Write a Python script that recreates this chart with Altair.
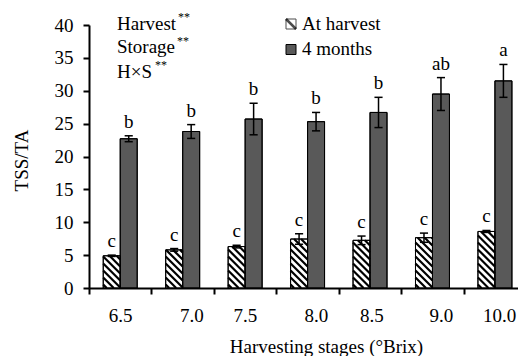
import altair as alt
import pandas as pd

# ---------------- data ----------------
stages = ["6.5", "7.0", "7.5", "8.0", "8.5", "9.0", "10.0"]
series = ["At harvest", "4 months"]
harvest_mean = [4.9, 5.8, 6.3, 7.45, 7.25, 7.65, 8.6]
harvest_err = [0.1, 0.2, 0.2, 0.8, 0.65, 0.7, 0.15]
harvest_letters = ["c", "c", "c", "c", "c", "c", "c"]
months_mean = [22.7, 23.8, 25.7, 25.3, 26.7, 29.5, 31.5]
months_err = [0.45, 1.05, 2.4, 1.4, 2.3, 2.5, 2.5]
months_letters = ["b", "b", "b", "b", "b", "ab", "a"]
y_ticks = [0, 5, 10, 15, 20, 25, 30, 35, 40]
effects = ["Harvest", "Storage", "H×S"]
effect_sig = ["**", "**", "**"]

# ---------------- style ----------------
W, H = 429, 263
BAND_PX = 62.45
XMAX = W / BAND_PX
YMAX = 40
BW = 0.272
CAP = 0.065
FONT = "Liberation Serif"
FS = 19
DARK = "#595959"
sx = W / XMAX
sy = H / YMAX
# per-label horizontal offsets (px) of the tick labels, as placed in the original
label_offsets = [31, 40, 31, 39.5, 32.5, 39.5, 35.5]

rows = []
for i, st in enumerate(stages):
    for s, m, e, l in [
        (series[0], harvest_mean[i], harvest_err[i], harvest_letters[i]),
        (series[1], months_mean[i], months_err[i], months_letters[i]),
    ]:
        if s == series[0]:
            x0, x1 = i + 0.5 - BW, i + 0.5
        else:
            x0, x1 = i + 0.5, i + 0.5 + BW
        xc = (x0 + x1) / 2
        rows.append(dict(stage=st, series=s, mean=m, zero=0, lo=m - e, hi=m + e,
                         letter=l, x0=x0, x1=x1, xc=xc, c0=xc - CAP, c1=xc + CAP))
df = pd.DataFrame(rows)

# hatch segments inside the "At harvest" bars (derived from the bar extents)
P = 7.0
hrows = []
for i, v in enumerate(harvest_mean):
    X0 = (i + 0.5 - BW) * sx
    X1 = (i + 0.5) * sx
    U = v * sy
    k = X0 + P / 2
    while k < X1 + U:
        xa = max(X0, k - U)
        xb = min(X1, k)
        if xb > xa:
            hrows.append(dict(hx0=xa / sx, hy0=(k - xa) / sy, hx1=xb / sx, hy1=(k - xb) / sy))
        k += P
hdf = pd.DataFrame(hrows)

label_arr = "[" + ",".join("'" + s + "'" for s in stages) + "]"
offset_cond = {
    "condition": [{"test": f"datum.value == {i}", "value": o} for i, o in enumerate(label_offsets)],
    "value": BAND_PX / 2,
}
xscale = alt.Scale(domain=[0, XMAX], nice=False, zero=False)
yscale = alt.Scale(domain=[0, YMAX], nice=False)
xaxis = alt.Axis(values=list(range(7)), labelExpr=label_arr + "[datum.value]",
                 labelOffset=offset_cond, labelFlush=False, labelOverlap=False, labelBound=False,
                 tickSize=6, tickWidth=2, tickColor="black", domainWidth=2, domainColor="black",
                 labelFont=FONT, labelFontSize=FS, labelColor="black", labelPadding=12, grid=False,
                 title="Harvesting  stages (°Brix)", titleFont=FONT, titleFontSize=FS,
                 titleFontWeight="normal", titleColor="black", titleX=237, titleY=64,
                 titleBaseline="alphabetic", titleAlign="center")
yaxis = alt.Axis(values=y_ticks, tickSize=6, tickWidth=2, tickColor="black", domainWidth=2,
                 domainColor="black", labelFont=FONT, labelFontSize=FS, labelColor="black",
                 labelPadding=10, grid=False, title="TSS/TA", titleFont=FONT, titleFontSize=FS,
                 titleFontWeight="normal", titleColor="black", titleX=-62, titleY=135,
                 titleAngle=270, titleBaseline="alphabetic", titleAlign="center")

base = alt.Chart(df)

bars = base.mark_rect(stroke="black", strokeWidth=1).encode(
    x=alt.X("x0:Q", scale=xscale, axis=xaxis),
    x2="x1:Q",
    y=alt.Y("mean:Q", scale=yscale, axis=yaxis),
    y2="zero:Q",
    fill=alt.Fill("series:N", scale=alt.Scale(domain=series, range=["white", DARK]), legend=None),
)

hatch = alt.Chart(hdf).mark_rule(color="black", strokeWidth=2.2).encode(
    x=alt.X("hx0:Q", scale=xscale, axis=xaxis),
    x2="hx1:Q",
    y=alt.Y("hy0:Q", scale=yscale, axis=yaxis),
    y2="hy1:Q",
)

outline = base.mark_rect(stroke="black", strokeWidth=1, fillOpacity=0).encode(
    x=alt.X("x0:Q", scale=xscale, axis=xaxis),
    x2="x1:Q",
    y=alt.Y("mean:Q", scale=yscale, axis=yaxis),
    y2="zero:Q",
)

err = base.mark_rule(color="black", strokeWidth=1.5).encode(
    x=alt.X("xc:Q", scale=xscale, axis=xaxis),
    y=alt.Y("lo:Q", scale=yscale, axis=yaxis),
    y2="hi:Q",
)
cap_lo = base.mark_rule(color="black", strokeWidth=1.5).encode(
    x=alt.X("c0:Q", scale=xscale, axis=xaxis), x2="c1:Q",
    y=alt.Y("lo:Q", scale=yscale, axis=yaxis),
)
cap_hi = base.mark_rule(color="black", strokeWidth=1.5).encode(
    x=alt.X("c0:Q", scale=xscale, axis=xaxis), x2="c1:Q",
    y=alt.Y("hi:Q", scale=yscale, axis=yaxis),
)
letters = base.mark_text(font=FONT, fontSize=FS, color="black", dy=-8,
                         baseline="alphabetic", align="center").encode(
    x=alt.X("xc:Q", scale=xscale, axis=xaxis),
    y=alt.Y("hi:Q", scale=yscale, axis=yaxis),
    text="letter:N",
)

one = pd.DataFrame({"a": [0]})

def txt(t, x, y, size=FS, baseline="alphabetic"):
    return alt.Chart(one).mark_text(text=t, font=FONT, fontSize=size, color="black",
                                    align="left", baseline=baseline).encode(
        x=alt.value(x), y=alt.value(y))

annot = [
    txt(effects[0], 28, 5), txt(effect_sig[0], 89, -13, 12, "top"),
    txt(effects[1], 28, 28), txt(effect_sig[1], 88, 11, 12, "top"),
    txt(effects[2], 28, 53), txt(effect_sig[2], 66, 35, 12, "top"),
    txt(series[0], 213, 5), txt(series[1], 213, 30),
]

leg_sq1 = alt.Chart(one).mark_point(shape="square", filled=False, stroke="black",
                                   strokeWidth=1, size=100).encode(
    x=alt.value(202), y=alt.value(-1))
leg_diag = alt.Chart(one).mark_point(shape="M-1,-1L1,1", filled=False, stroke="black",
                                    strokeWidth=2.5, size=100).encode(
    x=alt.value(202), y=alt.value(-1))
leg_sq2 = alt.Chart(one).mark_point(shape="square", filled=True, fill=DARK, stroke="black",
                                   strokeWidth=1, size=100, opacity=1).encode(
    x=alt.value(202), y=alt.value(24.5))

chart = alt.layer(bars, hatch, outline, err, cap_lo, cap_hi, letters,
                  leg_sq1, leg_diag, leg_sq2, *annot).properties(
    width=W, height=H,
    autosize=alt.AutoSizeParams(type="none"),
    padding={"left": 81, "top": 17, "right": 0, "bottom": 69},
    background="white",
).configure_view(strokeWidth=0)

chart.save("out.html", embed_options={"renderer": "svg", "actions": False})
